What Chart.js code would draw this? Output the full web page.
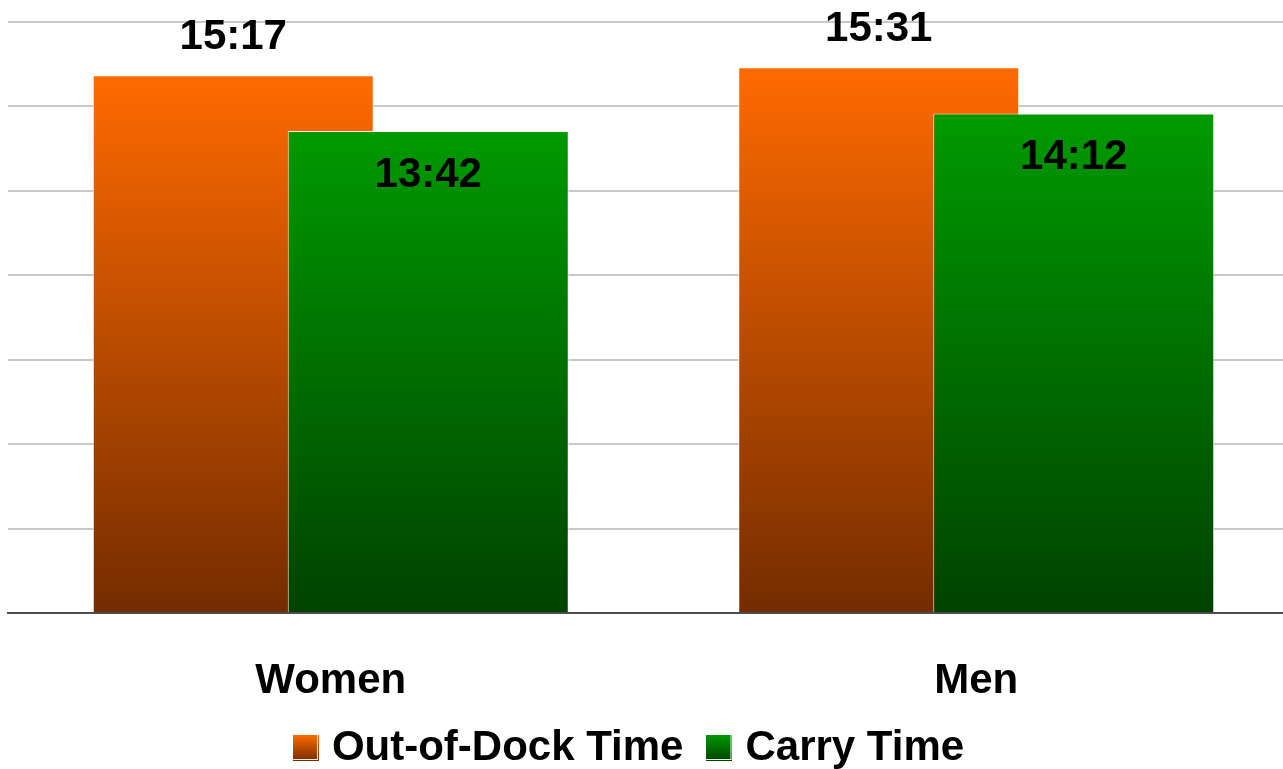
<!DOCTYPE html>
<html>
<head>
<meta charset="utf-8">
<script src="https://cdn.jsdelivr.net/npm/chart.js@4/dist/chart.umd.min.js"></script>
<style>
  html, body { margin: 0; padding: 0; background: #fff; overflow: hidden; }
  .chart-frame { position: relative; width: 1300px; height: 779px; }
</style>
</head>
<body>
<div class="chart-frame"><canvas id="chart"></canvas></div>
<script>
const CATEGORIES = ['Women', 'Men']
const OUT_OF_DOCK = ['15:17', '15:31']
const CARRY = ['13:42', '14:12']
const SERIES_NAMES = ['Out-of-Dock Time', 'Carry Time']

// y axis has no labels: 0:00 .. 16:48 in 2:24 steps
const Y_MAX = '16:48'
const Y_STEP = '2:24'

const ORANGE = ['#ff6a00', '#742c00']
const GREEN = ['#009a00', '#004200']
const FONT = '"Liberation Sans", Arial, sans-serif'
const LEGEND_PAD = 31
const SWATCH = 26

function toSeconds(text) {
  const [min, sec] = text.split(':').map(Number)
  return min * 60 + sec
}

function barFill(stops) {
  return (ctx) => {
    const { chart, raw } = ctx
    if (ctx.type !== 'data' || !chart.chartArea) return stops[0]
    const y = chart.scales.y
    const g = chart.ctx.createLinearGradient(0, y.getPixelForValue(raw), 0, y.getPixelForValue(0))
    g.addColorStop(0, stops[0])
    g.addColorStop(1, stops[1])
    return g
  }
}

// legend swatch: small gradient square with a light edge
function swatch(stops) {
  const c = document.createElement('canvas')
  c.width = SWATCH
  c.height = SWATCH
  const ctx = c.getContext('2d')
  const g = ctx.createLinearGradient(0, 0, 0, SWATCH)
  g.addColorStop(0, stops[0])
  g.addColorStop(1, stops[1])
  ctx.fillStyle = g
  ctx.fillRect(0, 0, SWATCH, SWATCH)
  ctx.fillStyle = 'rgba(255, 255, 255, 0.9)'
  ctx.fillRect(SWATCH - 2, 0, 1, SWATCH - 1)
  ctx.fillRect(0, SWATCH - 2, SWATCH - 1, 1)
  return c
}

// right-hand bar sits on top of the left one
const paintOrder = {
  id: 'paintOrder',
  beforeDatasetsDraw(chart) {
    chart.data.datasets.forEach((_, i) => chart.getDatasetMeta(i).controller.draw())
    return false
  },
}

const legendNudge = {
  id: 'legendNudge',
  afterLayout(chart) {
    chart.legend.left -= 42
  },
}

const valueLabels = {
  id: 'valueLabels',
  afterDraw(chart) {
    const { ctx } = chart
    ctx.save()
    ctx.font = `bold 42px ${FONT}`
    ctx.fillStyle = '#000'
    ctx.textAlign = 'center'
    ctx.textBaseline = 'middle'
    chart.data.datasets.forEach((ds, i) => {
      chart.getDatasetMeta(i).data.forEach((bar, j) => {
        const y = ds.labelInside ? bar.y + 44 : bar.y - 38
        ctx.fillText(ds.times[j], bar.x, y)
      })
    })
    ctx.restore()
  },
}

function legendLabels(chart) {
  const items = Chart.defaults.plugins.legend.labels.generateLabels(chart)
  for (const item of items) {
    item.pointStyle = chart.data.datasets[item.datasetIndex].swatch
    item.fontColor = '#000'
  }
  return items
}

function dataset(label, times, stops, labelInside) {
  return {
    label,
    times,
    labelInside,
    swatch: swatch(stops),
    data: times.map(toSeconds),
    backgroundColor: barFill(stops),
    borderColor: 'rgba(255, 255, 255, 0.85)',
    borderWidth: 1,
    categoryPercentage: 0.6042,
    barPercentage: 1.441,
  }
}

new Chart(document.getElementById('chart'), {
  type: 'bar',
  data: {
    labels: CATEGORIES,
    datasets: [
      dataset(SERIES_NAMES[0], OUT_OF_DOCK, ORANGE, false),
      dataset(SERIES_NAMES[1], CARRY, GREEN, true),
    ],
  },
  plugins: [paintOrder, legendNudge, valueLabels],
  options: {
    responsive: true,
    maintainAspectRatio: false,
    animation: false,
    layout: { padding: { top: 22, left: 8, right: 1, bottom: 0 } },
    plugins: {
      tooltip: { enabled: false },
      legend: {
        position: 'bottom',
        labels: {
          color: '#000',
          font: { family: FONT, size: 42, weight: 'bold' },
          usePointStyle: true,
          pointStyleWidth: 10,
          padding: LEGEND_PAD,
          generateLabels: legendLabels,
        },
      },
    },
    scales: {
      x: {
        grid: { display: false, drawTicks: false },
        border: { display: true, color: '#4d4d4d', width: 2 },
        ticks: {
          color: '#000',
          font: { family: FONT, size: 42, weight: 'bold' },
          padding: 43,
        },
        afterFit(scale) {
          scale.height = 114 - LEGEND_PAD
        },
      },
      y: {
        min: 0,
        max: toSeconds(Y_MAX),
        ticks: { display: false, stepSize: toSeconds(Y_STEP) },
        grid: {
          drawTicks: false,
          lineWidth: 2,
          color: (ctx) => (ctx.tick && ctx.tick.value === 0 ? '#4d4d4d' : '#c8c8c8'),
        },
        border: { display: false },
      },
    },
  },
})
</script>
</body>
</html>
